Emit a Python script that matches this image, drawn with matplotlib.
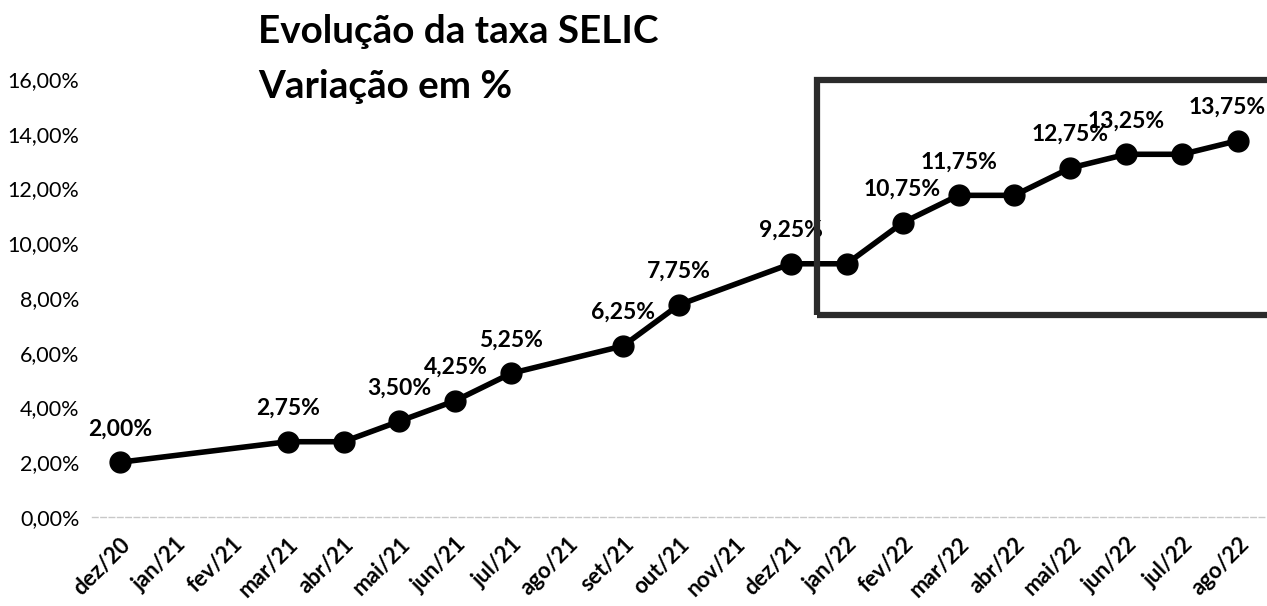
import matplotlib
matplotlib.use("Agg")
import matplotlib.pyplot as plt
from matplotlib.patches import Rectangle
from matplotlib.ticker import FuncFormatter
import numpy as np

# ---- data ----
months = ["dez/20", "jan/21", "fev/21", "mar/21", "abr/21", "mai/21", "jun/21",
          "jul/21", "ago/21", "set/21", "out/21", "nov/21", "dez/21", "jan/22",
          "fev/22", "mar/22", "abr/22", "mai/22", "jun/22", "jul/22", "ago/22"]
selic = [2.00, None, None, 2.75, 2.75, 3.50, 4.25, 5.25, None, 6.25, 7.75, None,
         9.25, 9.25, 10.75, 11.75, 11.75, 12.75, 13.25, 13.25, 13.75]
labels = ["2,00%", "", "", "2,75%", "", "3,50%", "4,25%", "5,25%", "", "6,25%",
          "7,75%", "", "9,25%", "", "10,75%", "11,75%", "", "12,75%", "13,25%",
          "", "13,75%"]
yticks = [0, 2, 4, 6, 8, 10, 12, 14, 16]
title_lines = ["Evolução da taxa SELIC", "Variação em %"]

plt.rcParams["font.family"] = ["Lato", "DejaVu Sans"]

W, H = 1267, 606
fig = plt.figure(figsize=(W / 100, H / 100), dpi=100)
ax = fig.add_axes([92 / W, (H - 517) / H, (1266 - 92) / W, (517 - 79) / H])

idx = [i for i, v in enumerate(selic) if v is not None]
vals = [selic[i] for i in idx]
ax.plot(idx, vals, color="black", lw=4.0, marker="o", markersize=15,
        solid_joinstyle="round", zorder=3, clip_on=False)

last = idx[-1]
for i in idx:
    if labels[i]:
        dx = -8 if i == last else 0
        ax.annotate(labels[i], (i, selic[i]), xytext=(dx, 24), textcoords="offset points",
                    ha="center", va="center", fontsize=16.5, fontweight="bold",
                    color="black", zorder=4)

ax.set_xlim(-0.5, 20.5)
ax.set_ylim(0, 16)
ax.set_yticks(yticks)
ax.yaxis.set_major_formatter(FuncFormatter(lambda v, p: f"{v:.2f}%".replace(".", ",")))
ax.set_xticks(range(len(months)))
ax.set_xticklabels(months, rotation=45, ha="right", rotation_mode="anchor",
                   fontsize=16, fontweight="bold")
ax.tick_params(axis="y", length=0, pad=9, labelsize=15.5)
ax.tick_params(axis="x", length=0, pad=12)

for s in ["top", "right", "left"]:
    ax.spines[s].set_visible(False)
ax.spines["bottom"].set_color("#c8c8c8")
ax.spines["bottom"].set_linewidth(1.0)
ax.spines["bottom"].set_linestyle((0, (4, 2)))

fig.text(258 / W, 1 - 14 / H, title_lines[0], fontsize=27.8, fontweight="bold",
         ha="left", va="top")
fig.text(258 / W, 1 - 69 / H, title_lines[1], fontsize=27.8, fontweight="bold",
         ha="left", va="top")

rect = Rectangle((817 / W, 1 - 315 / H), (1290 - 817) / W, (315 - 80) / H,
                 transform=fig.transFigure, fill=False, edgecolor="#2b2b2b",
                 linewidth=4.5, zorder=5)
fig.patches.append(rect)

fig.savefig("out.png", dpi=100, facecolor="white")
